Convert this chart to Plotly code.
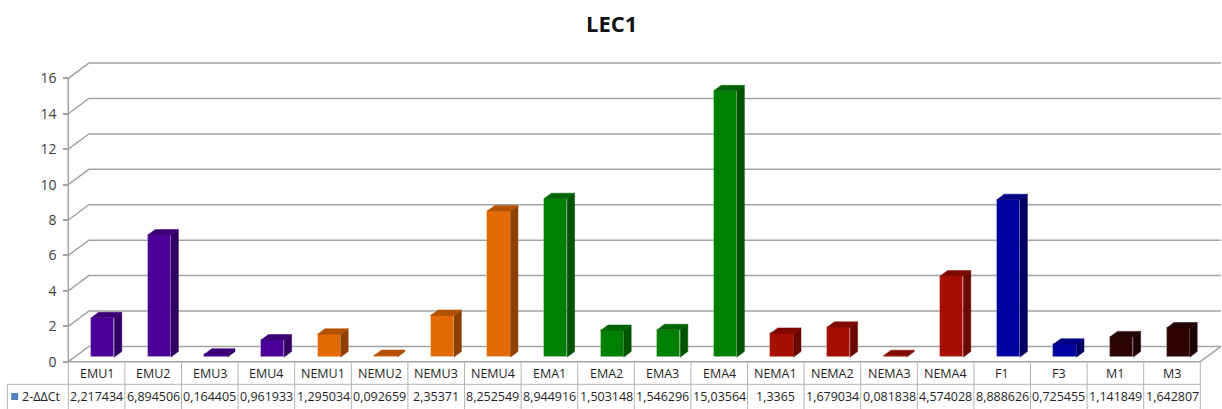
import re
import plotly.graph_objects as go

# ---- data -------------------------------------------------------------
categories = ["EMU1", "EMU2", "EMU3", "EMU4",
              "NEMU1", "NEMU2", "NEMU3", "NEMU4",
              "EMA1", "EMA2", "EMA3", "EMA4",
              "NEMA1", "NEMA2", "NEMA3", "NEMA4",
              "F1", "F3", "M1", "M3"]
values = [2.217434, 6.894506, 0.164405, 0.961933,
          1.295034, 0.092659, 2.35371, 8.252549,
          8.944916, 1.503148, 1.546296, 15.03564,
          1.3365, 1.679034, 0.081838, 4.574028,
          8.888626, 0.725455, 1.141849, 1.642807]
series_name = "2-ΔΔCt"
y_ticks = [0, 2, 4, 6, 8, 10, 12, 14, 16]
title_text = "LEC1"

# ---- styles -----------------------------------------------------------
# (front, side, top) face colours per sample group
group_colors = {
    "EMU":  ("#4b0096", "#310064", "#3c0078"),
    "NEMU": ("#e36a04", "#8f4000", "#b35200"),
    "EMA":  ("#008000", "#005400", "#006400"),
    "NEMA": ("#a50e00", "#6a0700", "#820900"),
    "F":    ("#0000a0", "#000064", "#000080"),
    "M":    ("#2d0604", "#1c0302", "#240403"),
}
grid_color = "#a3a3a3"
table_color = "#b3b3b3"
text_color = "#1f1f1f"
font_family = "Open Sans, Noto Sans, sans-serif"

W, H = 1222, 409
X_LEFT = 68.3      # pixel x of the first table column / front axis
COL_W = 56.6       # pixel width of one category column
Y_ZERO = 361.7     # pixel y of value 0 on the front plane
UNIT = 17.71       # pixels per value unit

# depth of the 3-D box, in axis units
DX = 20.6 / COL_W
DY = 15.3 / UNIT
F_FRONT, F_BACK = 0.30, 0.66   # bar depth as fractions of the box depth
BAR_W = 0.41

n = len(categories)
x_range = [-X_LEFT / COL_W, (W - X_LEFT) / COL_W]
y_range = [(Y_ZERO - H) / UNIT, Y_ZERO / UNIT]

fig = go.Figure()

# ---- walls, floor and gridlines --------------------------------------
shapes = []
top_tick = max(y_ticks)
for v in y_ticks:
    shapes.append(dict(
        type="path", xref="x", yref="y", layer="below",
        path=f"M 0,{v} L {DX},{v + DY} L {n + DX},{v + DY}",
        line=dict(color=grid_color, width=1.5)))
# front axis line
shapes.append(dict(type="line", xref="x", yref="y", layer="below",
                   x0=0, y0=0, x1=0, y1=top_tick,
                   line=dict(color=grid_color, width=1.5)))
# floor front edge and right edge
shapes.append(dict(type="path", xref="x", yref="y", layer="below",
                   path=f"M 0,0 L {n},0 L {n + DX},{DY}",
                   line=dict(color=grid_color, width=1.5)))

# ---- data table grid --------------------------------------------------
row_split = (Y_ZERO - 384.3) / UNIT
table_bottom = y_range[0] - 0.5
legend_left = (7.3 - X_LEFT) / COL_W
for i in range(n + 1):
    shapes.append(dict(type="line", xref="x", yref="y",
                       x0=i, x1=i, y0=0, y1=table_bottom,
                       line=dict(color=table_color, width=1)))
shapes.append(dict(type="line", xref="x", yref="y",
                   x0=legend_left, x1=n, y0=row_split, y1=row_split,
                   line=dict(color=table_color, width=1)))
shapes.append(dict(type="line", xref="x", yref="y",
                   x0=legend_left, x1=legend_left, y0=row_split, y1=table_bottom,
                   line=dict(color=table_color, width=1)))

# ---- 3-D columns ------------------------------------------------------
groups = [re.sub(r"\d", "", c) for c in categories]
base = F_FRONT * DY
ddx = (F_BACK - F_FRONT) * DX
ddy = (F_BACK - F_FRONT) * DY
centers = [i + 0.5 + F_FRONT * DX for i in range(n)]

fig.add_trace(go.Bar(
    x=centers, y=values, base=[base] * n, width=BAR_W,
    marker=dict(color=[group_colors[g][0] for g in groups],
                line=dict(color="rgba(255,255,255,0.25)", width=0.8)),
    hoverinfo="skip", showlegend=False))

for c, v, g in zip(centers, values, groups):
    xl, xr = c - BAR_W / 2, c + BAR_W / 2
    top = base + v
    # right side face
    fig.add_trace(go.Scatter(
        x=[xr, xr, xr + ddx, xr + ddx, xr],
        y=[base, top, top + ddy, base + ddy, base],
        mode="lines", fill="toself", fillcolor=group_colors[g][1],
        line=dict(color=group_colors[g][1], width=0.5),
        hoverinfo="skip", showlegend=False))
    # top face
    fig.add_trace(go.Scatter(
        x=[xl, xr, xr + ddx, xl + ddx, xl],
        y=[top, top, top + ddy, top + ddy, top],
        mode="lines", fill="toself", fillcolor=group_colors[g][2],
        line=dict(color=group_colors[g][2], width=0.5),
        hoverinfo="skip", showlegend=False))

# legend key in the table
header_y = (Y_ZERO - 373.5) / UNIT
value_y = (Y_ZERO - 396.5) / UNIT
fig.add_trace(go.Scatter(
    x=[(14.7 - X_LEFT) / COL_W], y=[value_y], mode="markers",
    marker=dict(symbol="square", size=7, color="#4f81bd"),
    hoverinfo="skip", showlegend=False))

# ---- table text -------------------------------------------------------
annotations = []
for i, (cat, v) in enumerate(zip(categories, values)):
    annotations.append(dict(x=i + 0.5, y=header_y, xref="x", yref="y",
                            text=cat, showarrow=False,
                            font=dict(size=12.5, color=text_color, family=font_family)))
    annotations.append(dict(x=i + 0.5, y=value_y, xref="x", yref="y",
                            text=f"{v:.7g}".replace(".", ","), showarrow=False,
                            font=dict(size=12.5, color=text_color, family=font_family)))
annotations.append(dict(x=(19.5 - X_LEFT) / COL_W, y=value_y, xref="x", yref="y",
                        text=series_name, showarrow=False, xanchor="left",
                        font=dict(size=12.5, color=text_color, family=font_family)))
annotations.append(dict(x=611 / W, y=1 - 23 / H, xref="paper", yref="paper",
                        xanchor="center", yanchor="middle",
                        text=f"<b>{title_text}</b>", showarrow=False,
                        font=dict(size=22, color="#111111", family=font_family)))

fig.update_layout(
    width=W, height=H, autosize=False,
    margin=dict(l=0, r=0, t=0, b=0),
    paper_bgcolor="white", plot_bgcolor="white",
    shapes=shapes, annotations=annotations,
    bargap=0,
    xaxis=dict(range=x_range, visible=False, fixedrange=True),
    yaxis=dict(range=y_range, anchor="free", position=X_LEFT / W,
               tickmode="array", tickvals=y_ticks,
               ticks="outside", ticklen=5, tickcolor=grid_color, tickwidth=1.5,
               ticklabelstandoff=4,
               showline=False, showgrid=False, zeroline=False,
               tickfont=dict(size=14, color="#404040", family=font_family),
               fixedrange=True),
)

fig.write_html("out.html")
